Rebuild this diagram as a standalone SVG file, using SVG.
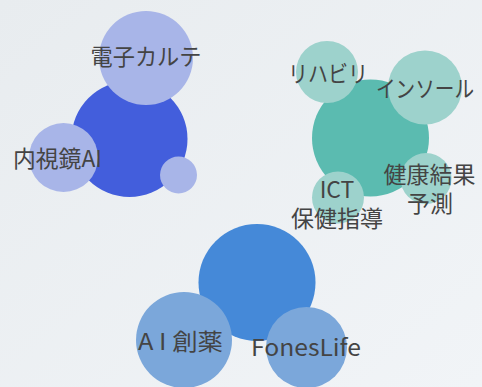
<svg xmlns="http://www.w3.org/2000/svg" width="482" height="387" viewBox="0 0 482 387">
<defs>
<linearGradient id="bg" x1="0" y1="0" x2="1" y2="1">
<stop offset="0" stop-color="#e8ecef"/>
<stop offset="1" stop-color="#f1f4f7"/>
</linearGradient>
<style>
.t{font-family:"Noto Sans CJK JP","Noto Sans",sans-serif;font-size:23px;fill:#444;text-anchor:middle;dominant-baseline:central}
.b1{fill:#435edc}.b1s{fill:#a8b5e8}
.g1{fill:#5bbbb0}.g1s{fill:#9dd2cc}
.c1{fill:#4589d8}.c1s{fill:#7ba7da}
</style>
</defs>
<rect width="482" height="387" fill="url(#bg)"/>
<g id="cluster-blue">
<circle class="b1" cx="129.5" cy="139" r="58"/>
<g id="n-karte"><circle class="b1s" cx="146" cy="58" r="47"/><text class="t" x="146" y="55" textLength="111" lengthAdjust="spacingAndGlyphs">電子カルテ</text></g>
<g id="n-naishikyo"><circle class="b1s" cx="63.5" cy="157.5" r="34.5"/><text class="t" x="57.5" y="157" textLength="89" lengthAdjust="spacingAndGlyphs">内視鏡AI</text></g>
<g id="n-small"><circle class="b1s" cx="178.5" cy="175" r="18.5"/></g>
</g>
<g id="cluster-teal">
<circle class="g1" cx="370.5" cy="138" r="58.5"/>
<g id="n-reha"><circle class="g1s" cx="327" cy="72" r="31"/><text class="t" x="328" y="72" textLength="80" lengthAdjust="spacingAndGlyphs">リハビリ</text></g>
<g id="n-insole"><circle class="g1s" cx="425" cy="87.5" r="37"/><text class="t" x="425" y="87" textLength="98" lengthAdjust="spacingAndGlyphs">インソール</text></g>
<g id="n-kenko"><circle class="g1s" cx="426" cy="178.5" r="25.5"/><text class="t" x="429.5" y="173">健康結果</text><text class="t" x="430" y="202">予測</text></g>
<g id="n-ict"><circle class="g1s" cx="338" cy="197.5" r="26"/><text class="t" x="337" y="188">ICT</text><text class="t" x="337" y="217">保健指導</text></g>
</g>
<g id="cluster-azure">
<circle class="c1" cx="257" cy="282.5" r="58.5"/>
<g id="n-soyaku"><circle class="c1s" cx="184" cy="340" r="48"/><text class="t" x="180.5" y="340" textLength="85" lengthAdjust="spacingAndGlyphs">A I 創薬</text></g>
<g id="n-fones"><circle class="c1s" cx="306.5" cy="347.5" r="40.5"/><text class="t" x="306" y="346" textLength="110" lengthAdjust="spacingAndGlyphs">FonesLife</text></g>
</g>
<g id="connectors"/>
</svg>
